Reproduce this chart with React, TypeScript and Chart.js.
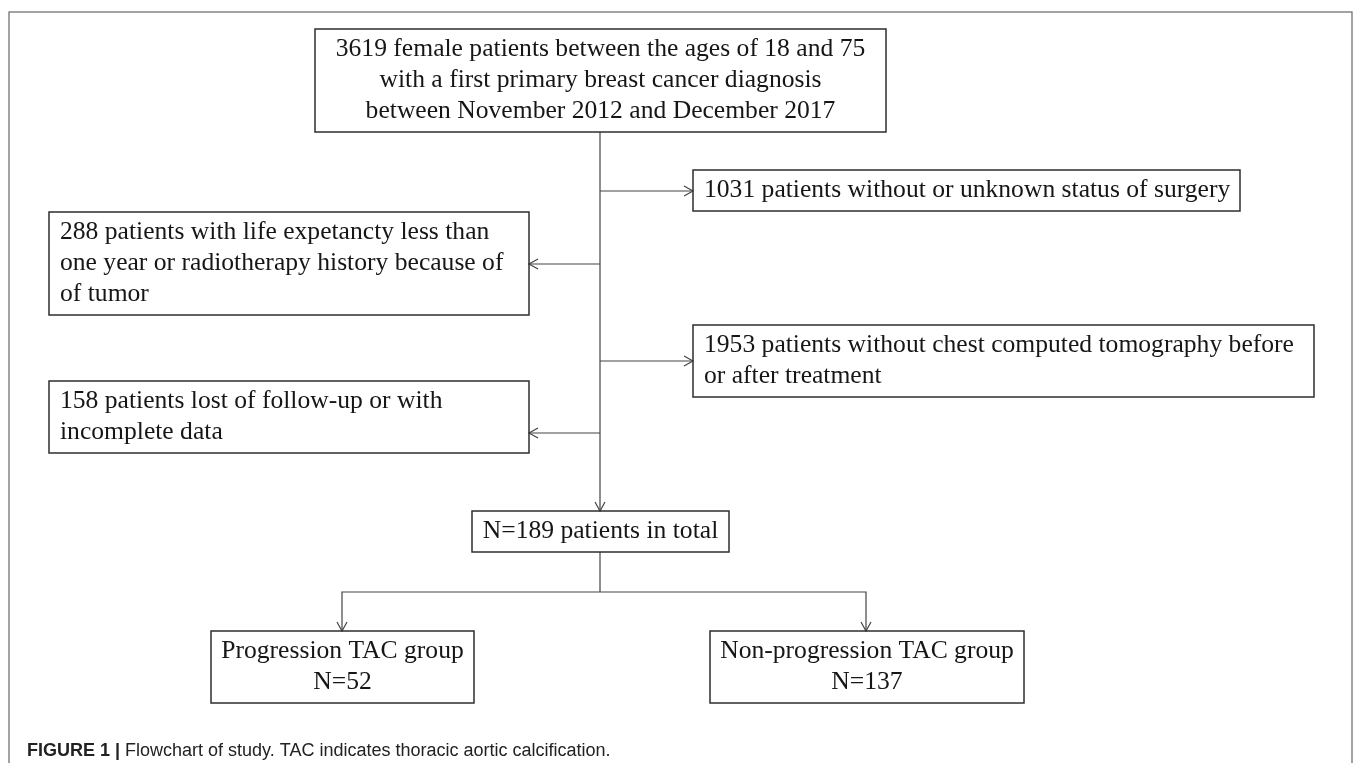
import React, { useEffect, useRef } from 'react';
import { Chart, registerables } from 'chart.js';

Chart.register(...registerables);

const W = 1357;
const H = 763;

// ---- Flowchart content (data) ----
const nodeText: string[][] = [
  [
    '3619 female patients between the ages of 18 and 75',
    'with a first primary breast cancer diagnosis',
    'between November 2012 and December 2017',
  ],
  ['1031 patients without or unknown status of surgery'],
  [
    '288 patients with life expetancty less than',
    'one year or radiotherapy history because of',
    'of tumor',
  ],
  ['1953 patients without chest computed tomography before', 'or after treatment'],
  ['158 patients lost of follow-up or with', 'incomplete data'],
  ['N=189 patients in total'],
  ['Progression TAC group', 'N=52'],
  ['Non-progression TAC group', 'N=137'],
];

const captionLabel = 'FIGURE 1 |';
const captionText = ' Flowchart of study. TAC indicates thoracic aortic calcification.';

// ---- Layout (in scale units of a 1357 x 763 plane) ----
type Box = { x0: number; x1: number; y0: number; y1: number; align: 'left' | 'center' };
const nodeBoxes: Box[] = [
  { x0: 315, x1: 886, y0: 29, y1: 132, align: 'center' },
  { x0: 693, x1: 1240, y0: 170, y1: 211, align: 'left' },
  { x0: 49, x1: 529, y0: 212, y1: 315, align: 'left' },
  { x0: 693, x1: 1314, y0: 325, y1: 397, align: 'left' },
  { x0: 49, x1: 529, y0: 381, y1: 453, align: 'left' },
  { x0: 472, x1: 729, y0: 511, y1: 552, align: 'center' },
  { x0: 211, x1: 474, y0: 631, y1: 703, align: 'center' },
  { x0: 710, x1: 1024, y0: 631, y1: 703, align: 'center' },
];

type Connector = { pts: [number, number][]; arrow: boolean };
const connectors: Connector[] = [
  { pts: [[600, 132], [600, 511]], arrow: true },
  { pts: [[600, 191], [693, 191]], arrow: true },
  { pts: [[600, 264], [529, 264]], arrow: true },
  { pts: [[600, 361], [693, 361]], arrow: true },
  { pts: [[600, 433], [529, 433]], arrow: true },
  { pts: [[600, 552], [600, 592]], arrow: false },
  { pts: [[600, 592], [342, 592], [342, 631]], arrow: true },
  { pts: [[600, 592], [866, 592], [866, 631]], arrow: true },
];

const frame = { x0: 9, x1: 1352, y0: 12, y1: 820 };

const SERIF = '"Liberation Serif", "Times New Roman", Times, serif';
const SANS = '"Liberation Sans", Arial, Helvetica, sans-serif';
const TEXT_COLOR = '#161616';
const LINE_COLOR = '#444444';
const BOX_COLOR = '#2e2e2e';
const FONT_SIZE = 25.6;
const LINE_H = 31;
const TEXT_PAD = 11;

const flowPlugin = {
  id: 'flowPlugin',
  beforeDatasetsDraw(chart: any) {
    const { ctx, scales } = chart;
    const xs = scales.x;
    const ys = scales.y;
    ctx.save();
    ctx.strokeStyle = '#666666';
    ctx.lineWidth = 1.2;
    const fx0 = xs.getPixelForValue(frame.x0);
    const fx1 = xs.getPixelForValue(frame.x1);
    const fy0 = ys.getPixelForValue(frame.y0);
    const fy1 = ys.getPixelForValue(frame.y1);
    ctx.strokeRect(fx0, fy0, fx1 - fx0, fy1 - fy0);
    ctx.restore();
  },
  afterDatasetsDraw(chart: any) {
    const { ctx, scales } = chart;
    const xs = scales.x;
    const ys = scales.y;
    const px = (v: number) => xs.getPixelForValue(v);
    const py = (v: number) => ys.getPixelForValue(v);

    // arrowheads
    ctx.save();
    ctx.strokeStyle = LINE_COLOR;
    ctx.lineWidth = 1.2;
    connectors.forEach((c) => {
      if (!c.arrow) return;
      const n = c.pts.length;
      const [ex, ey] = c.pts[n - 1];
      const [sx, sy] = c.pts[n - 2];
      const X = px(ex), Y = py(ey);
      const dx = px(ex) - px(sx), dy = py(ey) - py(sy);
      const len = Math.hypot(dx, dy) || 1;
      const ux = dx / len, uy = dy / len;
      const L = 9, hw = 5;
      ctx.beginPath();
      ctx.moveTo(X - ux * L - uy * hw, Y - uy * L + ux * hw);
      ctx.lineTo(X, Y);
      ctx.lineTo(X - ux * L + uy * hw, Y - uy * L - ux * hw);
      ctx.stroke();
    });
    ctx.restore();

    // boxes and their text
    ctx.save();
    nodeBoxes.forEach((b, i) => {
      const x0 = px(b.x0), x1 = px(b.x1), y0 = py(b.y0), y1 = py(b.y1);
      ctx.strokeStyle = BOX_COLOR;
      ctx.lineWidth = 1.5;
      ctx.strokeRect(x0, y0, x1 - x0, y1 - y0);
      const lines = nodeText[i];
      ctx.fillStyle = TEXT_COLOR;
      ctx.font = `${FONT_SIZE}px ${SERIF}`;
      ctx.textBaseline = 'middle';
      const cy = (y0 + y1) / 2;
      const startY = cy - ((lines.length - 1) * LINE_H) / 2;
      lines.forEach((t, k) => {
        const ty = startY + k * LINE_H;
        if (b.align === 'center') {
          ctx.textAlign = 'center';
          ctx.fillText(t, (x0 + x1) / 2, ty);
        } else {
          ctx.textAlign = 'left';
          ctx.fillText(t, x0 + TEXT_PAD, ty);
        }
      });
    });
    ctx.restore();

    // caption
    ctx.save();
    ctx.fillStyle = '#222222';
    ctx.textBaseline = 'middle';
    ctx.textAlign = 'left';
    const cx = px(27);
    const cyy = py(751);
    ctx.font = `bold 18px ${SANS}`;
    ctx.fillText(captionLabel, cx, cyy);
    const w1 = ctx.measureText(captionLabel).width;
    ctx.font = `18px ${SANS}`;
    ctx.fillText(captionText, cx + w1, cyy);
    ctx.restore();
  },
};

export default function App() {
  const canvasRef = useRef<HTMLCanvasElement | null>(null);

  useEffect(() => {
    const canvas = canvasRef.current;
    if (!canvas) return;
    const chart = new Chart(canvas, {
      type: 'scatter',
      data: {
        datasets: connectors.map((c, i) => ({
          label: `connector ${i + 1}`,
          data: c.pts.map(([x, y]) => ({ x, y })),
          showLine: true,
          borderColor: LINE_COLOR,
          borderWidth: 1.2,
          pointRadius: 0,
          pointHoverRadius: 0,
          fill: false,
          tension: 0,
        })),
      },
      options: {
        animation: false,
        responsive: false,
        events: [],
        layout: { padding: 0 },
        scales: {
          x: { type: 'linear', min: 0, max: W, display: false },
          y: { type: 'linear', min: 0, max: H, reverse: true, display: false },
        },
        plugins: {
          legend: { display: false },
          tooltip: { enabled: false },
          title: { display: false },
        },
      },
      plugins: [flowPlugin],
    });
    return () => chart.destroy();
  }, []);

  return (
    <div style={{ position: 'fixed', left: 0, top: 0, width: W, height: H, background: '#ffffff' }}>
      <canvas ref={canvasRef} width={W} height={H} style={{ display: 'block', width: W, height: H }} />
    </div>
  );
}
